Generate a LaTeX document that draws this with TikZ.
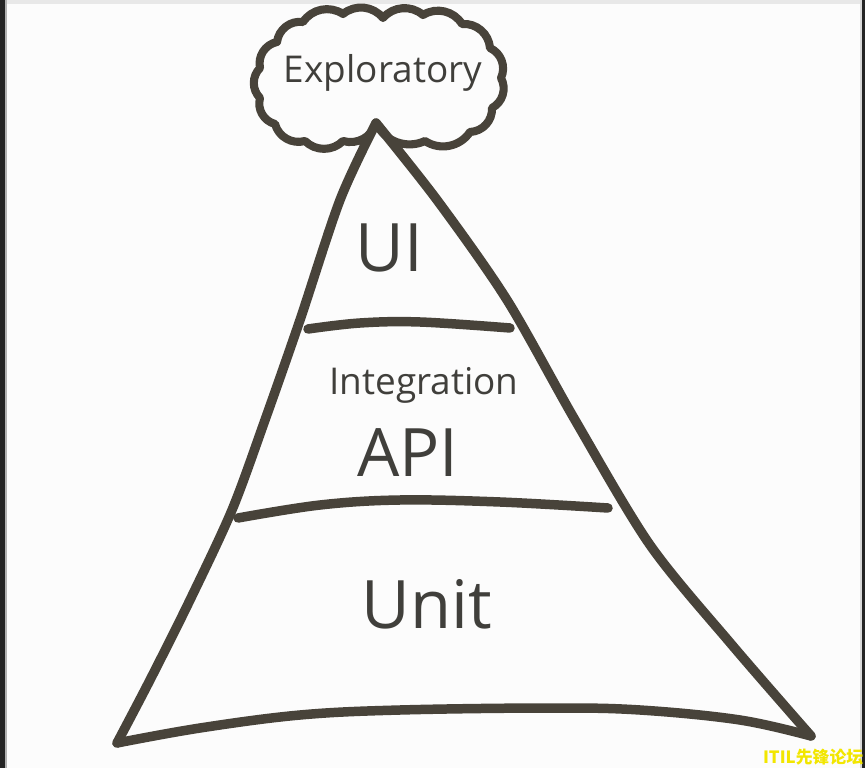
\documentclass[tikz,border=0pt]{standalone}
\usepackage{fontspec}
\setmainfont{Open Sans}
\newfontfamily\cjkfont{Noto Sans CJK SC}
\definecolor{ink}{HTML}{48433A}
\definecolor{txt}{HTML}{403F3B}
\definecolor{mark}{HTML}{F2E600}

\begin{document}
\begin{tikzpicture}[x=0.01cm, y=-0.01cm, every node/.style={inner sep=0pt}]
        \tikzset{
            pen/.style={draw=ink, line width=2.7pt, line cap=round, line join=round},
            cloudpen/.style={draw=ink, line width=2.3pt, line cap=round, line join=round},
            big/.style={text=txt, font=\fontsize{19}{23}\selectfont, anchor=base},
            small/.style={text=txt, font=\fontsize{10.5}{13}\selectfont, anchor=base}
        }

        % Screen and frame
        \fill[black!1] (0,0) rectangle (865,768);
        \useasboundingbox (0,0) rectangle (865,768);
        \fill[black!9] (6,0) rectangle (860,4);
        \fill[black!86] (0,0) rectangle (5,768);
        \fill[black!30] (5,0) rectangle (6.5,768);
        \fill[black!15] (860,0) rectangle (861.5,768);
        \fill[black!86] (861.5,0) rectangle (865,768);

        % Pyramid corners
        \coordinate (top) at (376,123);
        \coordinate (bl) at (117,743);
        \coordinate (br) at (811,736);

        % Sides and base, drawn by hand
        \draw[pen] plot[smooth, tension=0.5] coordinates {(top) (340,200) (300,320) (265,420) (232,510) (190,600) (150,680) (bl)};
        \draw[pen] plot[smooth, tension=0.6] coordinates {(bl) (200,728) (300,715) (400,710) (550,708) (640,710) (740,720) (br)};
        \draw[pen] plot[smooth, tension=0.5] coordinates {(top) (437,200) (507,300) (575,420) (650,545) (732,645) (br)};

        % Layer dividers
        \draw[pen] plot[smooth, tension=0.6] coordinates {(308,329) (360,323) (420,322) (510,328)};
        \draw[pen] plot[smooth, tension=0.6] coordinates {(238,518) (320,505) (400,500) (500,502) (608,508)};

        % Cloud on top
        \draw[cloudpen] (top) to[bend right=45] (425,141) to[bend right=45] (470,132)
            to[bend right=45] (492,108) to[bend right=45] (501,78) to[bend right=45] (490,48)
            to[bend right=45] (462,24) to[bend right=45] (423,15) to[bend right=45] (383,18)
            to[bend right=45] (343,14) to[bend right=45] (303,22) to[bend right=45] (277,42)
            to[bend right=45] (260,68) to[bend right=45] (260,98) to[bend right=45] (275,124)
            to[bend right=45] (305,141) to[bend right=45] (343,141) to[bend right=45] (top);

        % Labels
        \node[small] (explo) at (383,83) {Exploratory};
        \node[big] (ui) at (389,272) {UI};
        \node[small] (integ) at (424,395) {Integration};
        \node[big] (api) at (408,477) {API};
        \node[big] (unit) at (427,628) {Unit};

        % Watermark
        \node[text=mark, font=\cjkfont\bfseries\fontsize{4.8}{5}\selectfont, anchor=base east] (wm) at (864,763) {ITIL先锋论坛};
    \end{tikzpicture}
\end{document}
